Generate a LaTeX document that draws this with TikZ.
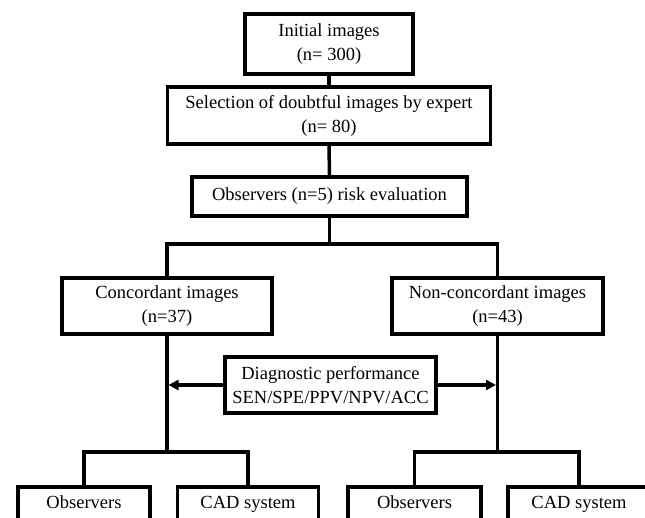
\documentclass[tikz,border=0pt]{standalone}
\usepackage{fontspec}
\setmainfont{Liberation Serif}
\usetikzlibrary{positioning,arrows.meta}
\tikzset{
  stage/.style={draw=black, line width=3.5pt, fill=white, align=center,
    inner sep=0pt, font=\fontsize{18.5}{24}\selectfont},
  reader/.style={stage, minimum height=34, text height=13pt, text depth=4pt},
  link/.style={draw=black, line width=3.5pt},
  measure/.style={link, -{Triangle[length=10pt,width=10pt]}, shorten >=1.5pt}
}

\begin{document}
\begin{tikzpicture}[x=1pt,y=-1pt]
  \useasboundingbox (0,0) rectangle (645,517);
  \clip (0,0) rectangle (645,517);
  % selection steps
  \node[stage, minimum width=168, minimum height=60] (init) at (329,44) {Initial images\\(n= 300)};
  \node[stage, minimum width=323, minimum height=57] (select) at (329,115.5) {Selection of doubtful images by expert\\(n= 80)};
  \node[stage, minimum width=275, minimum height=39] (risk) at (329.5,196.5) {Observers (n=5) risk evaluation};
  % two groups
  \node[stage, minimum width=210, minimum height=56] (conc) at (167,306) {Concordant images\\(n=37)};
  \node[stage, minimum width=211, minimum height=56] (nonconc) at (497.5,306) {Non-concordant images\\(n=43)};
  \node[stage, minimum width=211, minimum height=56] (diag) at (330.5,385) {Diagnostic performance\\SEN/SPE/PPV/NPV/ACC};
  % readers
  \node[reader, minimum width=132] (lobs) at (84,504) {Observers};
  \node[reader, minimum width=141] (lcad) at (248,504) {CAD system};
  \node[reader, minimum width=133] (robs) at (414.5,504) {Observers};
  \node[reader, minimum width=142] (rcad) at (579,504) {CAD system};
  \coordinate (split) at (329.5,244);
  \coordinate (lsplit) at (167,452);
  \coordinate (rsplit) at (497.5,452);
  \draw[link] (init.south) -- (select.north);
  \draw[link] (select.south) -- (risk.north);
  \draw[link] (risk.south) -- (split);
  \draw[link] (conc.north) |- (split) -| (nonconc.north);
  \draw[link] (conc.south) -- (lsplit);
  \draw[link] (nonconc.south) -- (rsplit);
  \draw[link] (lobs.north) |- (lsplit) -| (lcad.north);
  \draw[link] (robs.north) |- (rsplit) -| (rcad.north);
  \draw[measure] (diag.west) -- (diag.west -| conc.south);
  \draw[measure] (diag.east) -- (diag.east -| nonconc.south);
\end{tikzpicture}
\end{document}
